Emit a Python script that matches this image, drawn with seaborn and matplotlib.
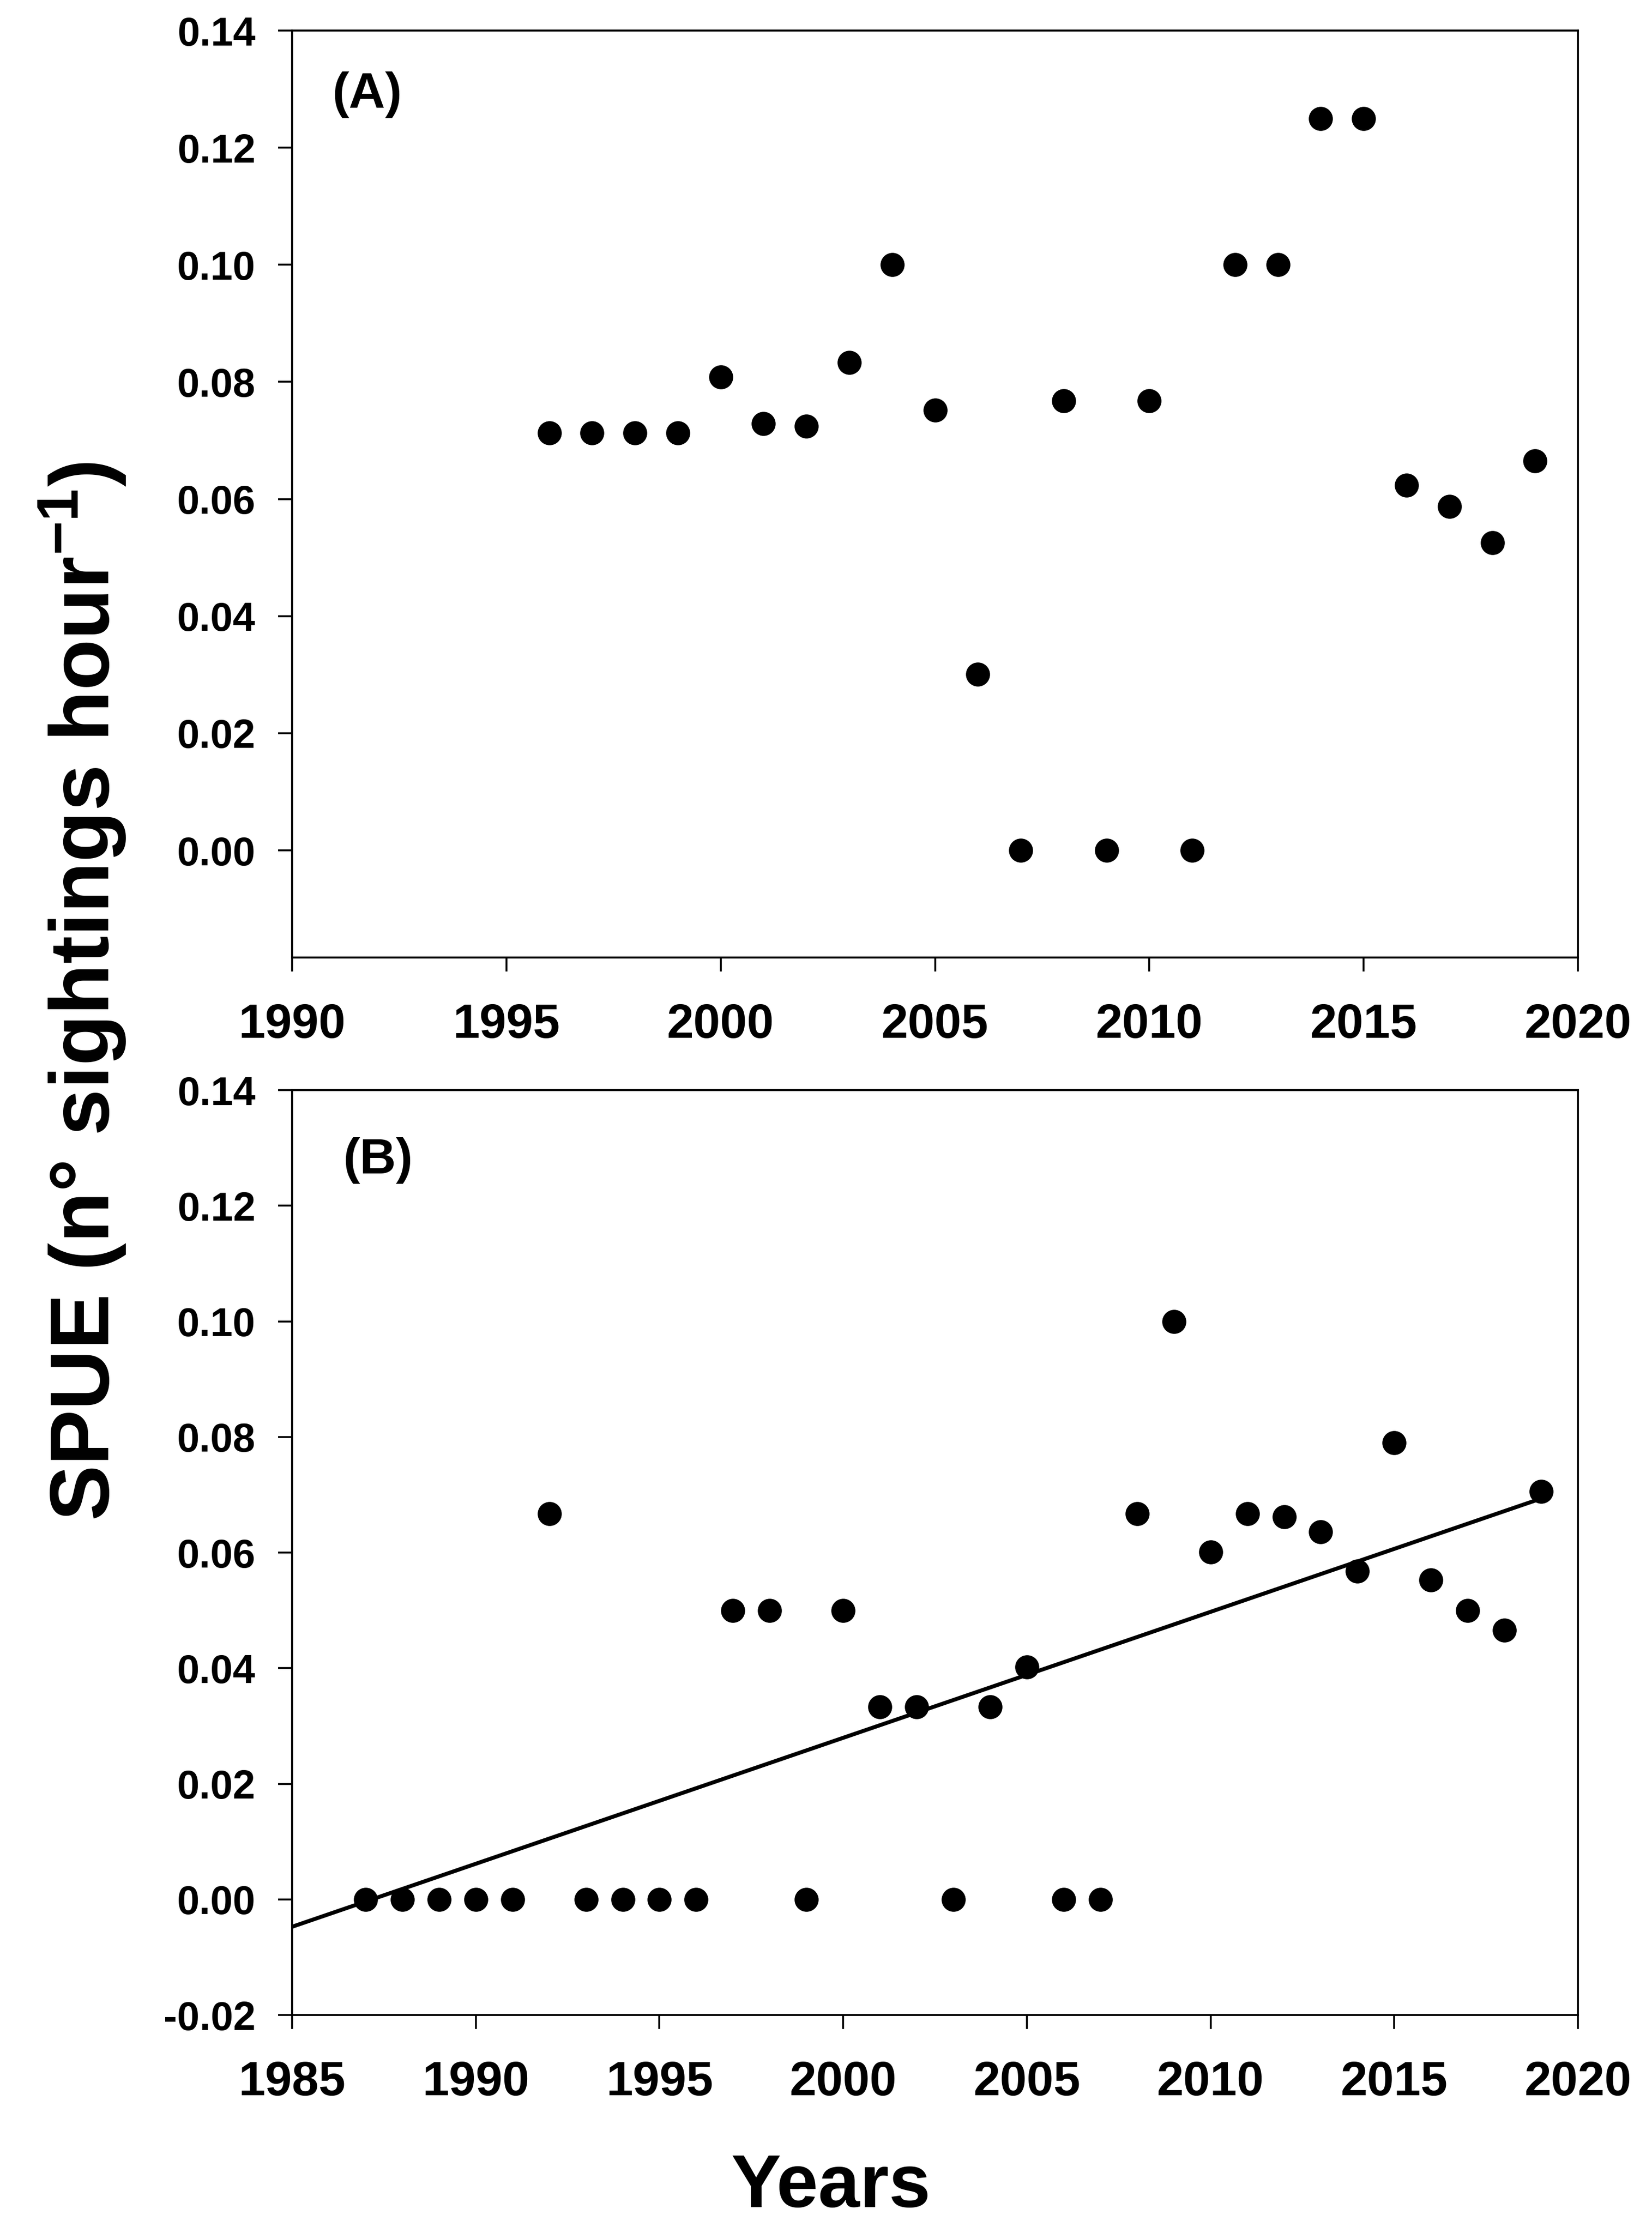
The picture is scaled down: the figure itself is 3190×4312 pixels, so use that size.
import matplotlib
matplotlib.use('Agg')
import matplotlib.pyplot as plt
import seaborn as sns

# Panel A data
years_a = list(range(1996, 2020))
spue_a = [0.0713, 0.0713, 0.0713, 0.0713, 0.0808, 0.0729, 0.0724, 0.0833,
          0.1000, 0.0752, 0.0301, 0.0, 0.0768, 0.0, 0.0768, 0.0,
          0.1000, 0.1000, 0.1250, 0.1250, 0.0624, 0.0587, 0.0525, 0.0665]

# Panel B data
years_b = list(range(1987, 2020))
spue_b = [0.0, 0.0, 0.0, 0.0, 0.0, 0.0667, 0.0, 0.0, 0.0, 0.0,
          0.050, 0.050, 0.0, 0.050, 0.0333, 0.0333, 0.0, 0.0333, 0.0402, 0.0,
          0.0, 0.0667, 0.1000, 0.0601, 0.0667, 0.0662, 0.0636, 0.0568, 0.0790,
          0.0553, 0.0500, 0.0466, 0.0706]

xticks_a = [1990, 1995, 2000, 2005, 2010, 2015, 2020]
xticks_b = [1985, 1990, 1995, 2000, 2005, 2010, 2015, 2020]
yticks_a = [0.00, 0.02, 0.04, 0.06, 0.08, 0.10, 0.12, 0.14]
yticks_b = [-0.02, 0.00, 0.02, 0.04, 0.06, 0.08, 0.10, 0.12, 0.14]

sns.set_style('ticks')
plt.rcParams['font.family'] = ['Liberation Sans', 'DejaVu Sans']
plt.rcParams['font.weight'] = 'bold'
plt.rcParams['text.color'] = 'black'
plt.rcParams['axes.labelcolor'] = 'black'
plt.rcParams['mathtext.fontset'] = 'custom'
plt.rcParams['mathtext.rm'] = 'Liberation Sans:bold'
plt.rcParams['mathtext.bf'] = 'Liberation Sans:bold'
plt.rcParams['mathtext.it'] = 'Liberation Sans:bold'
plt.rcParams['axes.linewidth'] = 2.7

fig = plt.figure(figsize=(31.9, 43.12), dpi=100)
ax1 = fig.add_axes([0.1768, 0.5712, 0.7784, 0.4151])
ax2 = fig.add_axes([0.1768, 0.0976, 0.7784, 0.4142])


def style_axis(ax, xticks, yticks):
    ax.set_xticks(xticks)
    ax.set_yticks(yticks)
    ax.set_yticklabels(['%.2f' % v for v in yticks])
    ax.tick_params(axis='both', direction='out', length=19.5, width=2.6,
                   colors='black')
    ax.tick_params(axis='x', labelsize=67, pad=44)
    ax.tick_params(axis='y', labelsize=56, pad=31)
    for lab in ax.get_xticklabels() + ax.get_yticklabels():
        lab.set_fontweight('bold')
    for sp in ax.spines.values():
        sp.set_color('black')
        sp.set_linewidth(2.7)
    ax.set_xlabel('')
    ax.set_ylabel('')


# (A)
sns.scatterplot(x=years_a, y=spue_a, ax=ax1, color='black', s=1120,
                linewidth=0, legend=False)
ax1.set_xlim(1990, 2020)
ax1.set_ylim(-0.0183, 0.14)
style_axis(ax1, xticks_a, yticks_a)
ax1.text(0.031, 0.931, '(A)', transform=ax1.transAxes, fontsize=70,
         fontweight='bold', ha='left', va='center', color='black')

# (B) with linear fit drawn from the left edge to the last year
ax2.set_xlim(1985, 2019)
sns.regplot(x=years_b, y=spue_b, ax=ax2, scatter=False, ci=None,
            truncate=False, color='black', line_kws={'linewidth': 5.5})
sns.scatterplot(x=years_b, y=spue_b, ax=ax2, color='black', s=1120,
                linewidth=0, legend=False, zorder=3)
ax2.set_xlim(1985, 2020)
ax2.set_ylim(-0.02, 0.14)
style_axis(ax2, xticks_b, yticks_b)
ax2.text(0.0395, 0.924, '(B)', transform=ax2.transAxes, fontsize=70,
         fontweight='bold', ha='left', va='center', color='black')

fig.text(0.05, 0.556, r'SPUE (n° sightings hour$^{-1}$)', rotation=90,
         fontsize=116, fontweight='bold', ha='center', va='center',
         color='black')
fig.text(0.503, 0.0116, 'Years', fontsize=104, fontweight='bold',
         ha='center', va='baseline', color='black')

fig.savefig('out.png', dpi=100, facecolor='white')
